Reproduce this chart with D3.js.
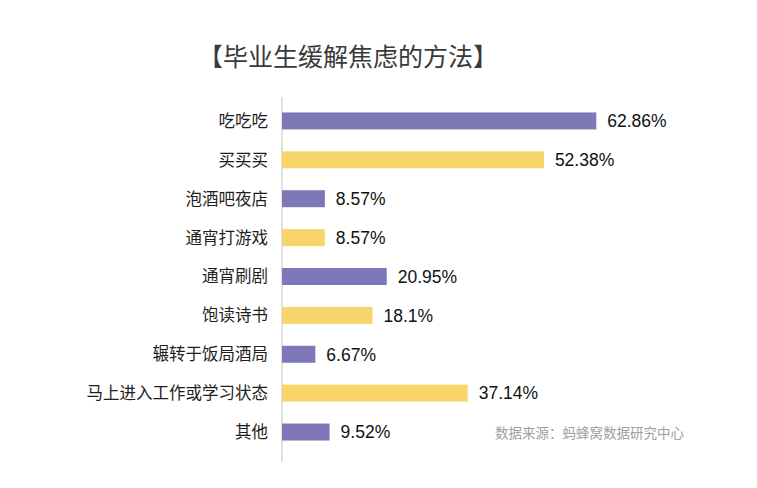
<!DOCTYPE html>
<html lang="zh">
<head>
    <meta charset="UTF-8">
    <script src="https://d3js.org/d3.v7.min.js"></script>
    <title>毕业生缓解焦虑的方法</title>
    <style>
        body {
            margin: 0;
            background-color: #ffffff;
        }
        svg {
            display: block;
            font-family: "Noto Sans CJK SC", "Noto Sans", sans-serif;
        }
    </style>
</head>
<body>

    <svg id="chart" width="757" height="488"></svg>

    <script>
        // 数据
        const categories = ["吃吃吃", "买买买", "泡酒吧夜店", "通宵打游戏", "通宵刷剧",
            "饱读诗书", "辗转于饭局酒局", "马上进入工作或学习状态", "其他"];
        const values = [62.86, 52.38, 8.57, 8.57, 20.95, 18.1, 6.67, 37.14, 9.52];
        const valueLabels = ["62.86%", "52.38%", "8.57%", "8.57%", "20.95%",
            "18.1%", "6.67%", "37.14%", "9.52%"];
        const barColors = ["#7e78b8", "#f8d56b"];

        const svg = d3.select("#chart");

        const axisX = 282;

        const x = d3.scaleLinear()
            .domain([0, 70])
            .range([axisX, axisX + 350]);

        const y = d3.scaleBand()
            .domain(categories)
            .range([101.5, 451.5])
            .paddingInner(0.563)
            .paddingOuter(0.2815);

        // 标题
        svg.append("text")
            .attr("x", 348)
            .attr("y", 66)
            .attr("text-anchor", "middle")
            .attr("font-size", 25)
            .attr("font-weight", 400)
            .attr("fill", "#3a3a3a")
            .text("【毕业生缓解焦虑的方法】");

        // 竖轴线
        svg.append("line")
            .attr("x1", axisX)
            .attr("x2", axisX)
            .attr("y1", 97)
            .attr("y2", 462)
            .attr("stroke", "#e2e2e2")
            .attr("stroke-width", 2);

        const rows = categories.map((c, i) => ({ name: c, value: values[i], label: valueLabels[i], i: i }));

        // 条形
        svg.selectAll(".bar")
            .data(rows)
            .enter()
            .append("rect")
            .attr("class", "bar")
            .attr("x", x(0))
            .attr("y", d => y(d.name))
            .attr("width", d => x(d.value) - x(0))
            .attr("height", y.bandwidth())
            .attr("fill", d => barColors[d.i % 2]);

        // 类别标签
        svg.selectAll(".cat")
            .data(rows)
            .enter()
            .append("text")
            .attr("class", "cat")
            .attr("x", 268)
            .attr("y", d => y(d.name) + y.bandwidth() / 2)
            .attr("dy", "0.36em")
            .attr("text-anchor", "end")
            .attr("font-size", 16.5)
            .attr("fill", "#1e1e1e")
            .text(d => d.name);

        // 数值标签
        svg.selectAll(".val")
            .data(rows)
            .enter()
            .append("text")
            .attr("class", "val")
            .attr("x", d => x(d.value) + 11)
            .attr("y", d => y(d.name) + y.bandwidth() / 2)
            .attr("dy", "0.36em")
            .attr("font-family", "'Liberation Sans', Arial, sans-serif")
            .attr("font-size", 17.5)
            .attr("fill", "#111111")
            .text(d => d.label);

        // 数据来源
        svg.append("text")
            .attr("x", 495)
            .attr("y", 438)
            .attr("font-size", 13.5)
            .attr("fill", "#a39e9c")
            .text("数据来源：蚂蜂窝数据研究中心");
    </script>

</body>
</html>
